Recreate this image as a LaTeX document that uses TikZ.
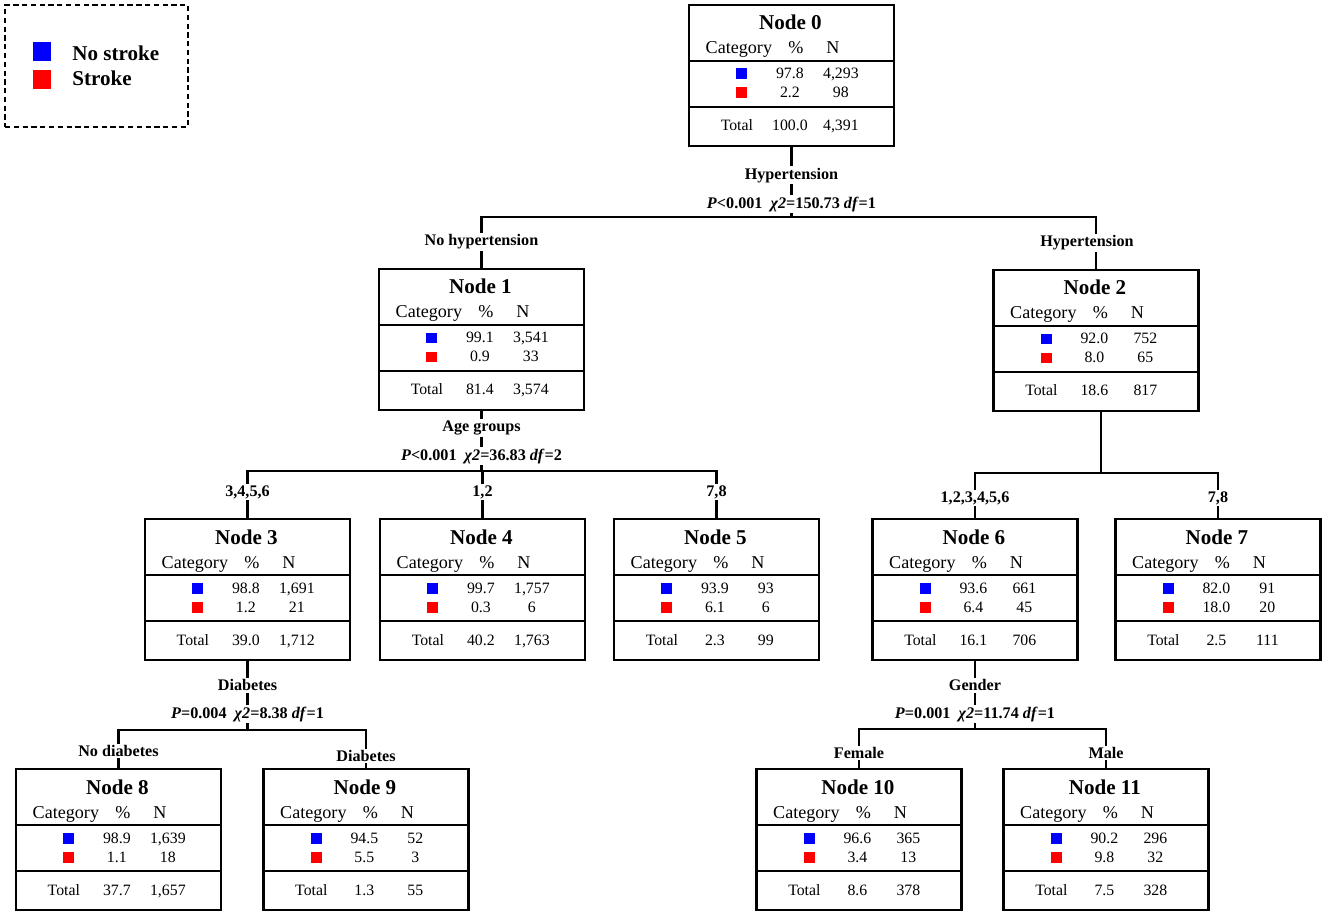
\documentclass[tikz,border=0pt]{standalone}
\usepackage{fontspec}
\setmainfont{Liberation Serif}
\usetikzlibrary{calc}

\definecolor{azul}{RGB}{0,0,255}
\definecolor{rojo}{RGB}{255,0,0}

% caja de un nodo: posición, número, %/N azul, %/N rojo, %/N total
\newcommand{\caja}[8]{%
  \node[nodo] (n#2) at #1 {};
  \node[titulo] (n#2-tit) at ($(n#2.north west)+(102.5,26)$) {Node #2};
  \node[celda] (n#2-cat) at ($(n#2.north west)+(51,50)$) {Category};
  \node[celda] (n#2-pct) at ($(n#2.north west)+(108,50)$) {\%};
  \node[celda] (n#2-n) at ($(n#2.north west)+(145,50)$) {N};
  \draw[linea] ($(n#2.north west)+(0,57)$) -- ($(n#2.north east)+(0,57)$);
  \draw[linea] ($(n#2.north west)+(0,103)$) -- ($(n#2.north east)+(0,103)$);
  \node[cuadro, fill=azul] (n#2-az) at ($(n#2.north west)+(54,70)$) {};
  \node[dato] (n#2-azp) at ($(n#2.north west)+(102,75)$) {#3};
  \node[dato] (n#2-azn) at ($(n#2.north west)+(153,75)$) {#4};
  \node[cuadro, fill=rojo] (n#2-ro) at ($(n#2.north west)+(54,89)$) {};
  \node[dato] (n#2-rop) at ($(n#2.north west)+(102,94)$) {#5};
  \node[dato] (n#2-ron) at ($(n#2.north west)+(153,94)$) {#6};
  \node[dato] (n#2-tot) at ($(n#2.north west)+(49,127)$) {Total};
  \node[dato] (n#2-totp) at ($(n#2.north west)+(102,127)$) {#7};
  \node[dato] (n#2-totn) at ($(n#2.north west)+(153,127)$) {#8};
}

\begin{document}
\begin{tikzpicture}[x=0.02cm, y=-0.02cm]
    \tikzset{
      nodo/.style={rectangle, draw, line width=1.3pt, minimum width=4.1cm,
                   minimum height=2.82cm, inner sep=0pt, anchor=north},
      titulo/.style={anchor=base, inner sep=0pt,
                     font=\fontsize{12}{14}\selectfont\bfseries},
      celda/.style={anchor=base, inner sep=0pt, font=\fontsize{10.3}{12}\selectfont},
      dato/.style={anchor=base, inner sep=0pt, font=\fontsize{9}{11}\selectfont},
      cuadro/.style={rectangle, minimum size=0.22cm, inner sep=0pt},
      linea/.style={line width=1.3pt},
      etiqueta/.style={fill=white, inner sep=1pt,
                       font=\fontsize{9.2}{11}\selectfont\bfseries},
      leyenda/.style={rectangle, draw, line width=1.3pt, dash pattern=on 3pt off 2pt,
                      minimum width=3.66cm, minimum height=2.44cm}
    }
    \useasboundingbox (0,0) rectangle (1325,915);

    % Leyenda
    \node[leyenda] (ley) at (96.5,66) {};
    \node[cuadro, fill=azul, minimum size=0.38cm] (ley-az) at (42,52) {};
    \node[cuadro, fill=rojo, minimum size=0.38cm] (ley-ro) at (42,80) {};
    \node[titulo, anchor=base west] (ley-azt) at (72,61) {No stroke};
    \node[titulo, anchor=base west] (ley-rot) at (72,86) {Stroke};

    % Nodos del árbol
    \caja{(791.5,4)}{0}{97.8}{4,293}{2.2}{98}{100.0}{4,391}
    \caja{(481.5,268)}{1}{99.1}{3,541}{0.9}{33}{81.4}{3,574}
    \caja{(1096,269)}{2}{92.0}{752}{8.0}{65}{18.6}{817}
    \caja{(247.5,518)}{3}{98.8}{1,691}{1.2}{21}{39.0}{1,712}
    \caja{(482.5,518)}{4}{99.7}{1,757}{0.3}{6}{40.2}{1,763}
    \caja{(716.5,518)}{5}{93.9}{93}{6.1}{6}{2.3}{99}
    \caja{(975,518)}{6}{93.6}{661}{6.4}{45}{16.1}{706}
    \caja{(1218,518)}{7}{82.0}{91}{18.0}{20}{2.5}{111}
    \caja{(118.5,768)}{8}{98.9}{1,639}{1.1}{18}{37.7}{1,657}
    \caja{(366,768)}{9}{94.5}{52}{5.5}{3}{1.3}{55}
    \caja{(859,768)}{10}{96.6}{365}{3.4}{13}{8.6}{378}
    \caja{(1106,768)}{11}{90.2}{296}{9.8}{32}{7.5}{328}

    % Conectores
    \draw[linea] (n0.south) -- ++(0,70) -| (n1.north);
    \draw[linea] (n0.south) -- ++(0,70) -| (n2.north);
    \draw[linea] (n1.south) -- ++(0,60) -| (n3.north);
    \draw[linea] (n1.south) -- ++(0,60) -| (n4.north);
    \draw[linea] (n1.south) -- ++(0,60) -| (n5.north);
    \draw[linea] ($(n2.south)+(5,0)$) -- ++(0,61) -| (n6.north);
    \draw[linea] ($(n2.south)+(5,0)$) -- ++(0,61) -| (n7.north);
    \draw[linea] (n3.south) -- ++(0,69) -| (n8.north);
    \draw[linea] (n3.south) -- ++(0,69) -| (n9.north);
    \draw[linea] (n6.south) -- ++(0,68) -| (n10.north);
    \draw[linea] (n6.south) -- ++(0,68) -| (n11.north);

    % Divisiones y ramas
    \node[etiqueta] (div0) at ($(n0.south)+(0,28)$) {Hypertension};
    \node[etiqueta] (est0) at ($(n0.south)+(0,57)$)
      {\textit{P}<0.001\enspace\textit{χ2}=150.73 \textit{df}=1};
    \node[etiqueta] (ram1) at ($(n1.north)+(0,-26)$) {No hypertension};
    \node[etiqueta] (ram2) at ($(n2.north)+(-9,-26)$) {Hypertension};

    \node[etiqueta] (div1) at ($(n1.south)+(0,17)$) {Age groups};
    \node[etiqueta] (est1) at ($(n1.south)+(0,45)$)
      {\textit{P}<0.001\enspace\textit{χ2}=36.83 \textit{df}=2};
    \node[etiqueta] (ram3) at ($(n3.north)+(0,-26)$) {3,4,5,6};
    \node[etiqueta] (ram4) at ($(n4.north)+(0,-26)$) {1,2};
    \node[etiqueta] (ram5) at ($(n5.north)+(0,-26)$) {7,8};

    \node[etiqueta] (ram6) at ($(n6.north)+(0,-20)$) {1,2,3,4,5,6};
    \node[etiqueta] (ram7) at ($(n7.north)+(0,-20)$) {7,8};

    \node[etiqueta] (div3) at ($(n3.south)+(0,24)$) {Diabetes};
    \node[etiqueta] (est3) at ($(n3.south)+(0,53)$)
      {\textit{P}=0.004\enspace\textit{χ2}=8.38 \textit{df}=1};
    \node[etiqueta] (ram8) at ($(n8.north)+(0,-17)$) {No diabetes};
    \node[etiqueta] (ram9) at ($(n9.north)+(0,-12)$) {Diabetes};

    \node[etiqueta] (div6) at ($(n6.south)+(0,24)$) {Gender};
    \node[etiqueta] (est6) at ($(n6.south)+(0,53)$)
      {\textit{P}=0.001\enspace\textit{χ2}=11.74 \textit{df}=1};
    \node[etiqueta] (ram10) at ($(n10.north)+(0,-15)$) {Female};
    \node[etiqueta] (ram11) at ($(n11.north)+(0,-15)$) {Male};
  \end{tikzpicture}
\end{document}
